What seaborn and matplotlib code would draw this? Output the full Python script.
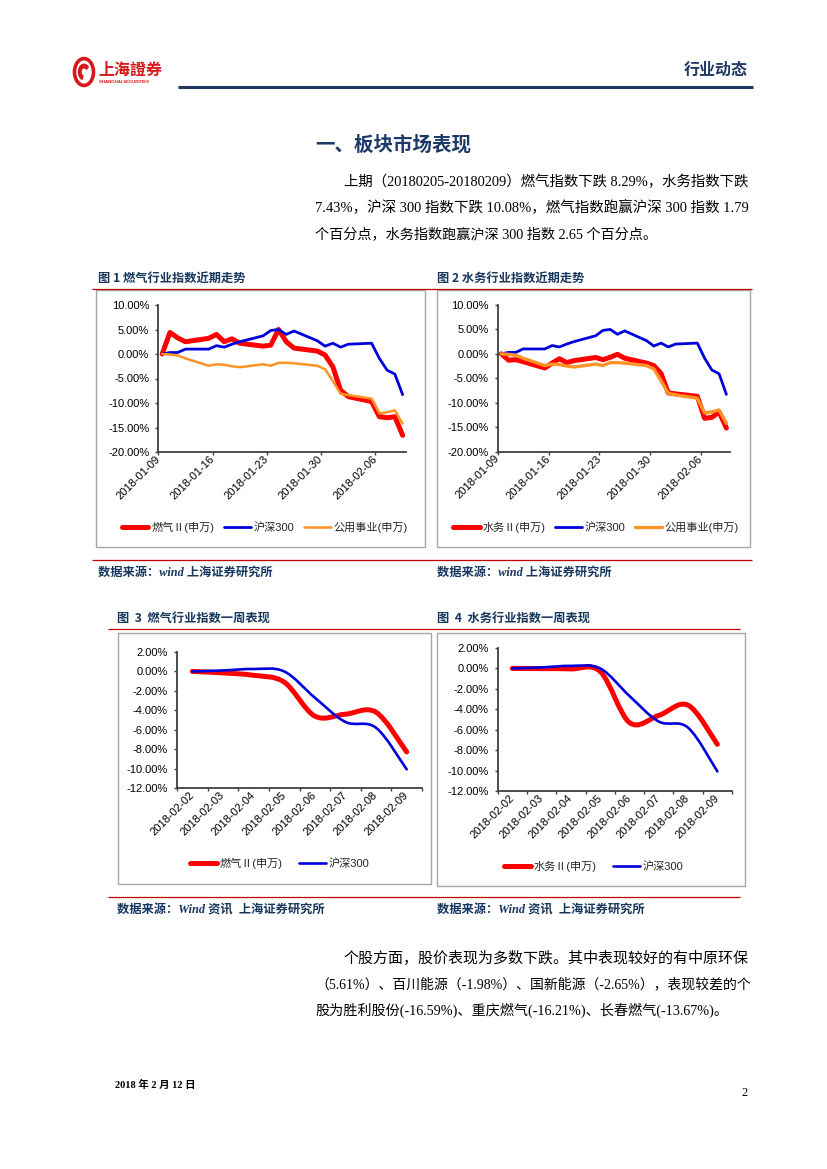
import numpy as np
import pandas as pd
import matplotlib
matplotlib.use("Agg")
import matplotlib.pyplot as plt
import matplotlib.dates as mdates
import seaborn as sns
from matplotlib.path import Path
from matplotlib.patches import PathPatch, Rectangle, Circle, Wedge
from matplotlib.lines import Line2D
from matplotlib.ticker import FuncFormatter

# ---------------- data ----------------
trade_dates = ['2018-01-09', '2018-01-10', '2018-01-11', '2018-01-12', '2018-01-15',
               '2018-01-16', '2018-01-17', '2018-01-18', '2018-01-19', '2018-01-22',
               '2018-01-23', '2018-01-24', '2018-01-25', '2018-01-26', '2018-01-29',
               '2018-01-30', '2018-01-31', '2018-02-01', '2018-02-02', '2018-02-05',
               '2018-02-06', '2018-02-07', '2018-02-08', '2018-02-09']
gas_trend = [0, 4.4, 3.3, 2.5, 3.2, 4.0, 2.5, 3.1, 2.2, 1.6, 1.8, 5.0,
             2.5, 1.2, 0.6, -0.2, -2.6, -7.4, -8.7, -9.7, -12.8, -13.0, -12.8, -16.6]
water_trend = [0, -1.3, -1.2, -1.6, -2.9, -1.9, -1.0, -1.8, -1.4, -0.75, -1.2, -0.7,
               -0.1, -0.9, -1.9, -2.4, -4.0, -8.0, -8.2, -8.7, -13.2, -13.0, -11.9, -15.2]
hs300_trend = [0, 0.3, 0.3, 1.0, 1.0, 1.7, 1.4, 2.0, 2.5, 3.7, 4.8, 5.0,
               4.0, 4.7, 2.7, 1.6, 2.2, 1.4, 2.0, 2.2, -0.9, -3.3, -4.1, -8.3]
utility_trend = [0, -0.1, -0.3, -0.9, -2.4, -2.1, -2.2, -2.5, -2.7, -2.1, -2.4, -1.8,
                 -1.8, -1.9, -2.4, -3.1, -5.5, -8.1, -8.4, -9.1, -12.1, -11.9, -11.5, -14.2]
trend_ticks = ['2018-01-09', '2018-01-16', '2018-01-23', '2018-01-30', '2018-02-06']
trend_ylim = (-20, 10)

week_dates = ['2018-02-02', '2018-02-03', '2018-02-04', '2018-02-05',
              '2018-02-06', '2018-02-07', '2018-02-08', '2018-02-09']
gas_week = [0, -0.15, -0.4, -1.1, -4.6, -4.4, -4.2, -8.29]
water_week = [0, -0.02, -0.05, -0.3, -5.3, -4.6, -3.6, -7.43]
hs300_week = [0, 0.1, 0.25, 0.0, -2.7, -5.2, -5.8, -10.08]
week_ylim = (-12, 2)

lbl_gas = '燃气Ⅱ(申万)'
lbl_water = '水务Ⅱ(申万)'
lbl_hs = '沪深300'
lbl_util = '公用事业(申万)'

para1 = ["上期（20180205-20180209）燃气指数下跌 8.29%，水务指数下跌",
         "7.43%，沪深 300 指数下跌 10.08%，燃气指数跑赢沪深 300 指数 1.79",
         "个百分点，水务指数跑赢沪深 300 指数 2.65 个百分点。"]
para2 = ["个股方面，股价表现为多数下跌。其中表现较好的有中原环保",
         "（5.61%）、百川能源（-1.98%）、国新能源（-2.65%），表现较差的个",
         "股为胜利股份(-16.59%)、重庆燃气(-16.21%)、长春燃气(-13.67%)。"]

# ---------------- style ----------------
sns.set_theme(style="white")
plt.rcParams['font.family'] = ['Liberation Sans', 'Noto Sans CJK SC', 'DejaVu Sans']
plt.rcParams['axes.unicode_minus'] = False

RED = '#FF0000'
BLUE = '#0000DD'
ORANGE = '#FF9326'
NAVY = '#17375E'
LINE_RED = '#C00000'
BOX = '#A6A6A6'
AXC = '#404040'
SERIF = ['Liberation Serif', 'Noto Sans CJK SC']
CJK = ['Noto Sans CJK SC', 'Liberation Sans']

W, H = 827, 1169
fig = plt.figure(figsize=(W / 100, H / 100), dpi=100)
fig.patch.set_facecolor('white')


def fx(x):
    return x / W


def fy(y):
    return 1 - y / H


def hline(x0, x1, y, color, lw):
    fig.add_artist(Line2D([fx(x0), fx(x1)], [fy(y), fy(y)], transform=fig.transFigure,
                          color=color, lw=lw, solid_capstyle='butt'))


def box(x0, y0, x1, y1):
    fig.add_artist(Rectangle((fx(x0), fy(y1)), (x1 - x0) / W, (y1 - y0) / H,
                             transform=fig.transFigure, fill=False, edgecolor=BOX, lw=1.0))


def add_axes(x0, y0, x1, y1):
    return fig.add_axes([fx(x0), fy(y1), (x1 - x0) / W, (y1 - y0) / H])


pct = FuncFormatter(lambda v, p: f'{v:.2f}%')


def style_axes(ax):
    ax.set_facecolor('none')
    ax.grid(False)
    for s in ['top', 'right']:
        ax.spines[s].set_visible(False)
    for s in ['left', 'bottom']:
        ax.spines[s].set_color(AXC)
        ax.spines[s].set_linewidth(1.3)
    ax.set_xlabel('')
    ax.set_ylabel('')
    ax.yaxis.set_major_formatter(pct)
    ax.tick_params(axis='y', which='major', left=True, direction='out', length=2.5,
                   width=1, color=AXC, labelsize=8, pad=4, labelcolor='black')


def trend_chart(rect, series, legend_center):
    ax = add_axes(*rect)
    x = pd.to_datetime(trade_dates) + pd.Timedelta(hours=12)
    handles = []
    for vals, color, lw, label in series:
        sns.lineplot(x=x, y=vals, ax=ax, color=color, lw=lw, legend=False,
                     solid_joinstyle='round', solid_capstyle='round')
        handles.append(Line2D([], [], color=color, lw=lw, label=label))
    ax.set_xlim(pd.Timestamp('2018-01-09'), pd.Timestamp('2018-02-10'))
    ax.set_ylim(*trend_ylim)
    ax.set_yticks(np.arange(trend_ylim[0], trend_ylim[1] + 1, 5))
    ax.set_xticks(pd.to_datetime(trend_ticks))
    ax.xaxis.set_major_formatter(mdates.DateFormatter('%Y-%m-%d'))
    style_axes(ax)
    ax.tick_params(axis='x', which='major', bottom=True, direction='out', length=2.5,
                   width=1, color=AXC, labelsize=8, pad=1.5, labelcolor='black')
    for t in ax.get_xticklabels():
        t.set_rotation(45)
        t.set_ha('right')
        t.set_va('center')
        t.set_rotation_mode('anchor')
    fig.legend(handles=handles, loc='center', bbox_to_anchor=(fx(legend_center[0]), fy(legend_center[1])),
               ncol=len(handles), frameon=False, fontsize=8, handlelength=2.4,
               handletextpad=0.25, columnspacing=0.9, borderpad=0, borderaxespad=0)
    return ax


def smooth_path(xs, ys):
    pts = np.column_stack([xs, ys]).astype(float)
    n = len(pts)
    verts = [pts[0]]
    codes = [Path.MOVETO]
    for i in range(n - 1):
        p0 = pts[i - 1] if i > 0 else pts[i]
        p1 = pts[i]
        p2 = pts[i + 1]
        p3 = pts[i + 2] if i + 2 < n else pts[i + 1]
        c1 = p1 + (p2 - p0) / 6.0
        c2 = p2 - (p3 - p1) / 6.0
        verts += [c1, c2, p2]
        codes += [Path.CURVE4] * 3
    return Path(verts, codes)


def week_chart(rect, series, legend_center):
    ax = add_axes(*rect)
    n = len(week_dates)
    xs = np.arange(n) + 0.5
    handles = []
    for vals, color, lw, label in series:
        ax.add_patch(PathPatch(smooth_path(xs, vals), fill=False, edgecolor=color, lw=lw,
                               capstyle='round', joinstyle='round'))
        handles.append(Line2D([], [], color=color, lw=lw, label=label))
    ax.set_xlim(0, n)
    ax.set_ylim(*week_ylim)
    ax.set_yticks(np.arange(week_ylim[0], week_ylim[1] + 1, 2))
    ax.set_xticks(np.arange(n + 1))
    ax.set_xticklabels([])
    ax.set_xticks(xs, minor=True)
    ax.set_xticklabels(week_dates, minor=True)
    style_axes(ax)
    ax.tick_params(axis='x', which='major', bottom=True, direction='out', length=2.5,
                   width=1, color=AXC)
    ax.tick_params(axis='x', which='minor', bottom=True, length=0, labelsize=8, pad=4,
                   labelcolor='black')
    for t in ax.get_xticklabels(minor=True):
        t.set_rotation(45)
        t.set_ha('right')
        t.set_va('center')
        t.set_rotation_mode('anchor')
    fig.legend(handles=handles, loc='center', bbox_to_anchor=(fx(legend_center[0]), fy(legend_center[1])),
               ncol=len(handles), frameon=False, fontsize=8, handlelength=2.4,
               handletextpad=0.25, columnspacing=1.5, borderpad=0, borderaxespad=0)
    return ax


# ---------------- header ----------------
fig.add_artist(Circle((fx(84), fy(72)), 9.5 / W, transform=fig.transFigure,
                      fill=False, edgecolor='#D7191C', lw=2.6))
fig.add_artist(Wedge((fx(84), fy(72)), 5.5 / W, 40, 250, width=2.5 / W,
                     transform=fig.transFigure, color='#D7191C'))
fig.text(fx(98), fy(70), '上海證券', family=['Noto Sans CJK TC', 'Noto Sans CJK SC'],
         weight='bold', fontsize=11.5, color='#D7191C', va='center', ha='left')
fig.text(fx(99), fy(82), 'SHANGHAI SECURITIES', fontsize=3.2, color='#D7191C',
         va='center', ha='left', weight='bold')
fig.text(fx(748), fy(70), '行业动态', family=CJK, weight='bold', fontsize=11.5,
         color='#1F3864', va='center', ha='right')
hline(178, 753, 87, '#1F3864', 2.2)

# ---------------- section title + paragraph ----------------
fig.text(fx(315), fy(145), '一、板块市场表现', family=CJK, weight='bold', fontsize=14,
         color='#1C3967', va='center', ha='left')

renderer = fig.canvas.get_renderer()


def para(lines, starts, ys, justify_to, size=10.2):
    for i, (s, x0, y) in enumerate(zip(lines, starts, ys)):
        t = fig.text(fx(x0), fy(y), s, family=SERIF, fontsize=size, color='black',
                     va='center', ha='left')
        if justify_to is not None and i < len(lines) - 1:
            w = t.get_window_extent(renderer=renderer).width
            target = justify_to - x0
            k = min(max(target / w, 0.92), 1.08)
            t.set_fontsize(size * k)


para(para1, [344, 315, 315], [182, 208, 234], 748)

# ---------------- figure captions ----------------
fig.text(fx(98), fy(278), '图 1 燃气行业指数近期走势', family=CJK, weight='bold',
         fontsize=8.8, color=NAVY, va='center', ha='left')
fig.text(fx(437), fy(278), '图 2 水务行业指数近期走势', family=CJK, weight='bold',
         fontsize=8.8, color=NAVY, va='center', ha='left')
hline(92, 752, 288.5, LINE_RED, 0.9)

box(96, 290, 425, 547)
box(437, 290, 750, 547)

trend_chart((158.3, 305, 406.5, 452),
            [(gas_trend, RED, 3.6, lbl_gas), (hs300_trend, BLUE, 2.0, lbl_hs),
             (utility_trend, ORANGE, 1.8, lbl_util)], (265, 527))
trend_chart((497.7, 305, 730, 451.5),
            [(water_trend, RED, 3.6, lbl_water), (hs300_trend, BLUE, 2.0, lbl_hs),
             (utility_trend, ORANGE, 2.4, lbl_util)], (596, 527))

hline(92, 752, 560, LINE_RED, 0.9)
fig.text(fx(98), fy(573), '数据来源：wind 上海证券研究所', family=SERIF, weight='bold',
         style='italic', fontsize=8.8, color=NAVY, va='center', ha='left')
fig.text(fx(437), fy(573), '数据来源：wind 上海证券研究所', family=SERIF, weight='bold',
         style='italic', fontsize=8.8, color=NAVY, va='center', ha='left')

fig.text(fx(117), fy(618), '图  3  燃气行业指数一周表现', family=CJK, weight='bold',
         fontsize=8.8, color=NAVY, va='center', ha='left')
fig.text(fx(437), fy(618), '图  4  水务行业指数一周表现', family=CJK, weight='bold',
         fontsize=8.8, color=NAVY, va='center', ha='left')
hline(108, 740, 629, LINE_RED, 0.9)

box(118, 633, 431, 884)
box(437, 633, 745, 886)

week_chart((177, 652, 422, 788),
           [(gas_week, RED, 3.6, lbl_gas), (hs300_week, BLUE, 1.9, lbl_hs)], (280, 863))
week_chart((497.7, 648, 732, 791),
           [(water_week, RED, 3.6, lbl_water), (hs300_week, BLUE, 1.9, lbl_hs)], (594, 866))

hline(108, 740, 897, LINE_RED, 0.9)
fig.text(fx(117), fy(910), '数据来源：Wind 资讯  上海证券研究所', family=SERIF, weight='bold',
         style='italic', fontsize=8.8, color=NAVY, va='center', ha='left')
fig.text(fx(437), fy(910), '数据来源：Wind 资讯  上海证券研究所', family=SERIF, weight='bold',
         style='italic', fontsize=8.8, color=NAVY, va='center', ha='left')

para(para2, [344, 315, 315], [959, 984, 1010], 748)

# ---------------- footer ----------------
fig.text(fx(115), fy(1085), '2018 年 2 月 12 日', family=SERIF, weight='bold', fontsize=7.5,
         color='black', va='center', ha='left')
fig.text(fx(748), fy(1093), '2', family=SERIF, fontsize=9, color='black', va='center', ha='right')

fig.savefig('out.png', dpi=100, facecolor='white')
